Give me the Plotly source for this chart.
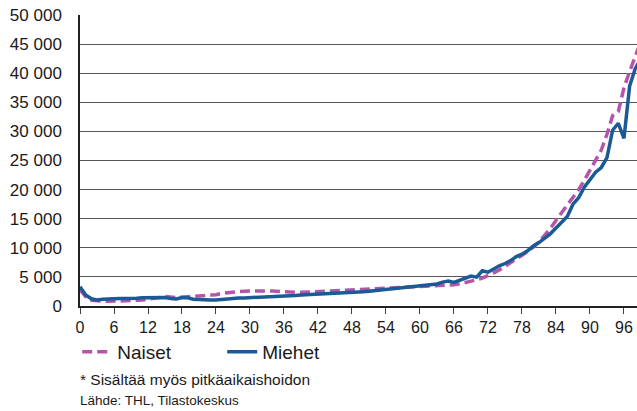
import plotly.graph_objects as go

ages = list(range(0, 100))

naiset = [
    2800, 1600, 1000, 850, 820, 810, 820, 850, 880, 920,
    970, 1050, 1150, 1250, 1450, 1620, 1500, 1430, 1520, 1580,
    1620, 1650, 1700, 1800, 1950, 2150, 2300, 2400, 2480, 2550,
    2600, 2620, 2620, 2600, 2560, 2480, 2420, 2380, 2360, 2360,
    2380, 2400, 2420, 2480, 2550, 2600, 2650, 2700, 2740, 2780,
    2850, 2920, 3000, 3080, 3150, 3190, 3220, 3240, 3260, 3280,
    3300, 3350, 3400, 3450, 3550, 3600, 3650, 3800, 4000, 4200,
    4500, 4800, 5200, 5700, 6200, 6800, 7400, 8000, 8700, 9400,
    10100, 11000, 12100, 13300, 14700, 16000, 17300, 18600, 20000, 21600,
    23300, 25200, 26800, 29500, 32700, 33400, 37500, 40300, 43000, 45500,
]

miehet = [
    3300, 1900, 1250, 1050, 1150, 1250, 1300, 1300, 1280, 1270,
    1350, 1420, 1440, 1470, 1500, 1450, 1300, 1200, 1450, 1400,
    1150, 1080, 1050, 1050, 1050, 1150, 1320, 1350, 1370, 1390,
    1420, 1480, 1540, 1580, 1600, 1630, 1670, 1720, 1800, 1880,
    1920, 1960, 2000, 2030, 2080, 2150, 2200, 2260, 2320, 2380,
    2450, 2550, 2650, 2770, 2880, 2950, 3020, 3080, 3150, 3250,
    3350, 3450, 3550, 3780, 4100, 4300, 4050, 4400, 4650, 5150,
    4950, 6050, 5800, 6400, 6900, 7300, 7800, 8500, 8900, 9500,
    10300, 10900, 11700, 12400, 13400, 14300, 15400, 17500, 18600, 20400,
    21600, 23000, 23800, 25500, 30200, 31400, 28800, 37800, 40800, 42500,
]

x_ticks = list(range(0, 97, 6))
y_ticks = list(range(0, 50001, 5000))
y_labels = [f"{v:,}".replace(",", " ") for v in y_ticks]

series_names = ["Naiset", "Miehet"]
footnote = "* Sisältää myös pitkäaikaishoidon"
source = "Lähde: THL, Tilastokeskus"

fig = go.Figure()
fig.add_trace(go.Scatter(
    x=ages, y=naiset, name=series_names[0], mode="lines",
    line=dict(color="#B455AA", width=3.5, dash="10px,5px"),
))
fig.add_trace(go.Scatter(
    x=ages, y=miehet, name=series_names[1], mode="lines",
    line=dict(color="#1A5A96", width=3.5),
))

font_family = "Liberation Sans, Arial, sans-serif"

fig.update_layout(
    width=637, height=411,
    margin=dict(l=80, r=0, t=15, b=105, autoexpand=False),
    paper_bgcolor="white", plot_bgcolor="white",
    font=dict(family=font_family, color="#1a1a1a"),
    showlegend=True,
    legend=dict(
        orientation="h", x=-0.005, xanchor="left", y=-0.158, yanchor="middle",
        font=dict(size=19, family=font_family, color="#1a1a1a"),
        entrywidth=100, itemwidth=30, tracegroupgap=0,
        bgcolor="rgba(0,0,0,0)",
    ),
    xaxis=dict(
        range=[0, 98.3], tickmode="array", tickvals=x_ticks,
        ticktext=[str(v) for v in x_ticks],
        showgrid=False, zeroline=False, automargin=False,
        showline=True, linecolor="#222", linewidth=1.5,
        ticks="outside", ticklen=6, tickcolor="#444", tickwidth=1,
        tickfont=dict(size=16, family=font_family, color="#1a1a1a"),
        fixedrange=True,
    ),
    yaxis=dict(
        range=[0, 50000], tickmode="array", tickvals=y_ticks, ticktext=y_labels,
        showgrid=True, gridcolor="#555", gridwidth=1, zeroline=False, automargin=False,
        showline=True, linecolor="#222", linewidth=1.5,
        ticks="", ticklabelstandoff=13,
        tickfont=dict(size=17, family=font_family, color="#1a1a1a"),
        fixedrange=True,
    ),
    annotations=[
        dict(text=footnote, xref="paper", yref="paper", x=-0.003, y=-0.251,
             xanchor="left", yanchor="middle", showarrow=False,
             font=dict(size=15.5, family=font_family, color="#1a1a1a")),
        dict(text=source, xref="paper", yref="paper", x=-0.003, y=-0.325,
             xanchor="left", yanchor="middle", showarrow=False,
             font=dict(size=13.5, family=font_family, color="#1a1a1a")),
    ],
)

fig.write_html(
    "out.html",
    config={"displayModeBar": False},
    post_script="document.body.style.margin='0';document.body.style.overflow='hidden';",
)
